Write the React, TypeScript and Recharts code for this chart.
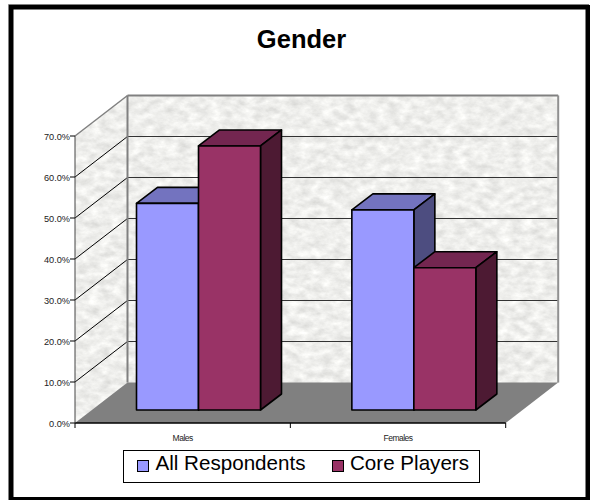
import React from "react";
import { BarChart, Bar, XAxis, YAxis, Legend, Customized } from "recharts";

const categories = ["Males", "Females"];
const allRespondents = [50.4, 48.8];
const corePlayers = [64.4, 34.7];
const tickValues = [0, 10, 20, 30, 40, 50, 60, 70];
const seriesNames = ["All Respondents", "Core Players"];

const data = categories.map((name, i) => ({
  name,
  all: allRespondents[i],
  core: corePlayers[i],
}));

const W = 594;
const H = 500;
const L = 75;
const T = 136;
const R = 505.7;
const B = 423;
const DX = 52.5; // wall depth
const DY = -40.5;
const BDX = 21; // bar depth
const BDY = -16;
const SX = 15.5; // bar offset in the floor
const SY = -13;
const FONT = "'Liberation Sans', Arial, sans-serif";

const yAt = (v: number) => B - ((B - T) * v) / 70;

function Decor() {
  const sideWall = `${L},${B} ${L},${T} ${L + DX},${T + DY} ${L + DX},${B + DY}`;
  const floor = `${L},${B} ${R},${B} ${R + DX},${B + DY} ${L + DX},${B + DY}`;
  const band = (R - L) / categories.length;
  return (
    <g>
      <defs>
        <filter id="stone" x="0" y="0" width="100%" height="100%" colorInterpolationFilters="sRGB">
          <feTurbulence type="fractalNoise" baseFrequency="0.09 0.14" numOctaves={4} seed={7} />
          <feColorMatrix
            type="matrix"
            values="0.2 0 0 0 0.835  0.2 0 0 0 0.835  0.2 0 0 0 0.825  0 0 0 0 1"
          />
        </filter>
        <clipPath id="sideClip">
          <polygon points={sideWall} />
        </clipPath>
      </defs>
      <rect x={0} y={0} width={W} height={H} fill="#fff" />
      {/* frame */}
      <line x1={8.5} y1={4.5} x2={589} y2={4.5} stroke="#808080" strokeWidth={1} />
      <line x1={8.5} y1={4.5} x2={8.5} y2={500} stroke="#808080" strokeWidth={1} />
      <rect x={11.25} y={7.25} width={576.5} height={492} fill="none" stroke="#000" strokeWidth={4.5} />
      {/* title */}
      <text x={301.5} y={48} textAnchor="middle" fontFamily={FONT} fontWeight="bold" fontSize={25.5} fill="#000">
        Gender
      </text>
      {/* walls */}
      <rect x={L + DX} y={T + DY} width={R - L} height={B - T} filter="url(#stone)" />
      <g clipPath="url(#sideClip)">
        <rect x={L} y={T + DY} width={DX} height={B - T - DY} filter="url(#stone)" />
      </g>
      {tickValues.slice(1, -1).map((t) => (
        <g key={t}>
          <line x1={L} y1={yAt(t)} x2={L + DX} y2={yAt(t) + DY} stroke="#000" strokeWidth={1} />
          <line x1={L + DX} y1={yAt(t) + DY} x2={R + DX} y2={yAt(t) + DY} stroke="#333" strokeWidth={1} />
        </g>
      ))}
      <polygon points={floor} fill="#808080" />
      <line x1={L} y1={T} x2={L + DX} y2={T + DY} stroke="#808080" strokeWidth={1.5} />
      <line x1={L + DX} y1={T + DY} x2={R + DX} y2={T + DY} stroke="#808080" strokeWidth={2} />
      <line x1={L + DX} y1={T + DY} x2={L + DX} y2={B + DY} stroke="#808080" strokeWidth={2} />
      <line x1={R + DX} y1={T + DY} x2={R + DX} y2={B + DY} stroke="#909090" strokeWidth={2} />
      {/* category boundary ticks */}
      {categories.concat("").map((_, i) => (
        <line key={i} x1={L + i * band} y1={B} x2={L + i * band} y2={B + 5} stroke="#000" strokeWidth={1} />
      ))}
    </g>
  );
}

function makeBar(front: string, top: string, side: string) {
  return function BarShape(props: any) {
    const { x, y, width, height } = props;
    const x0 = x + SX;
    const y0 = y + SY;
    const x1 = x0 + width;
    const y1 = y0 + height;
    return (
      <g stroke="#000" strokeWidth={1.6} strokeLinejoin="round">
        <polygon
          points={`${x0},${y0} ${x0 + BDX},${y0 + BDY} ${x1 + BDX},${y0 + BDY} ${x1},${y0}`}
          fill={top}
        />
        <polygon
          points={`${x1},${y0} ${x1 + BDX},${y0 + BDY} ${x1 + BDX},${y1 + BDY} ${x1},${y1}`}
          fill={side}
        />
        <rect x={x0} y={y0} width={width} height={height} fill={front} />
      </g>
    );
  };
}

function LegendBox(props: any) {
  const payload = props.payload || [];
  const swatchX = [137, 332];
  const textX = [155.5, 350];
  return (
    <div style={{ position: "relative", width: 0, height: 0 }}>
      <div
        style={{
          position: "absolute",
          left: 122.5,
          top: 450,
          width: 355,
          height: 31,
          border: "1px solid #000",
          background: "#fff",
        }}
      />
      {payload.map((p: any, i: number) => (
        <React.Fragment key={p.value}>
          <div
            style={{
              position: "absolute",
              left: swatchX[i],
              top: 460,
              width: 10,
              height: 10,
              background: p.color,
              border: "1px solid #000",
            }}
          />
          <div
            style={{
              position: "absolute",
              left: textX[i],
              top: 450,
              lineHeight: "26px",
              fontFamily: FONT,
              fontSize: 20.6,
              color: "#000",
              whiteSpace: "nowrap",
            }}
          >
            {p.value}
          </div>
        </React.Fragment>
      ))}
    </div>
  );
}

export default function App() {
  return (
    <div style={{ position: "absolute", left: 0, top: 0, width: W, height: H, background: "#fff", overflow: "hidden" }}>
      <BarChart
        width={W}
        height={H}
        data={data}
        margin={{ top: T, right: W - R, left: 0, bottom: 0 }}
        barSize={62}
        barGap={0}
      >
        <Customized component={Decor} />
        <XAxis
          dataKey="name"
          height={H - B}
          axisLine={{ stroke: "#000", strokeWidth: 1.5 }}
          tickLine={false}
          tickMargin={6}
          interval={0}
          tick={{ fontFamily: FONT, fontSize: 8.5, fill: "#222", letterSpacing: -0.5 }}
        />
        <YAxis
          width={L}
          domain={[0, 70]}
          ticks={tickValues}
          tickFormatter={(v: number) => v.toFixed(1) + "%"}
          axisLine={{ stroke: "#444", strokeWidth: 1 }}
          tickLine={{ stroke: "#000", strokeWidth: 1 }}
          tickSize={5}
          tickMargin={0}
          tick={{ fontFamily: FONT, fontSize: 9.2, fill: "#222", dy: 0.5 }}
        />
        <Legend
          content={<LegendBox />}
          wrapperStyle={{ left: 0, top: 0, bottom: "auto", width: 0, height: 0 }}
        />
        <Bar
          dataKey="all"
          name={seriesNames[0]}
          fill="#9999FF"
          isAnimationActive={false}
          shape={makeBar("#9999FF", "#7373BF", "#4D4D80")}
        />
        <Bar
          dataKey="core"
          name={seriesNames[1]}
          fill="#993366"
          isAnimationActive={false}
          shape={makeBar("#993366", "#732650", "#4D1A33")}
        />
      </BarChart>
    </div>
  );
}
